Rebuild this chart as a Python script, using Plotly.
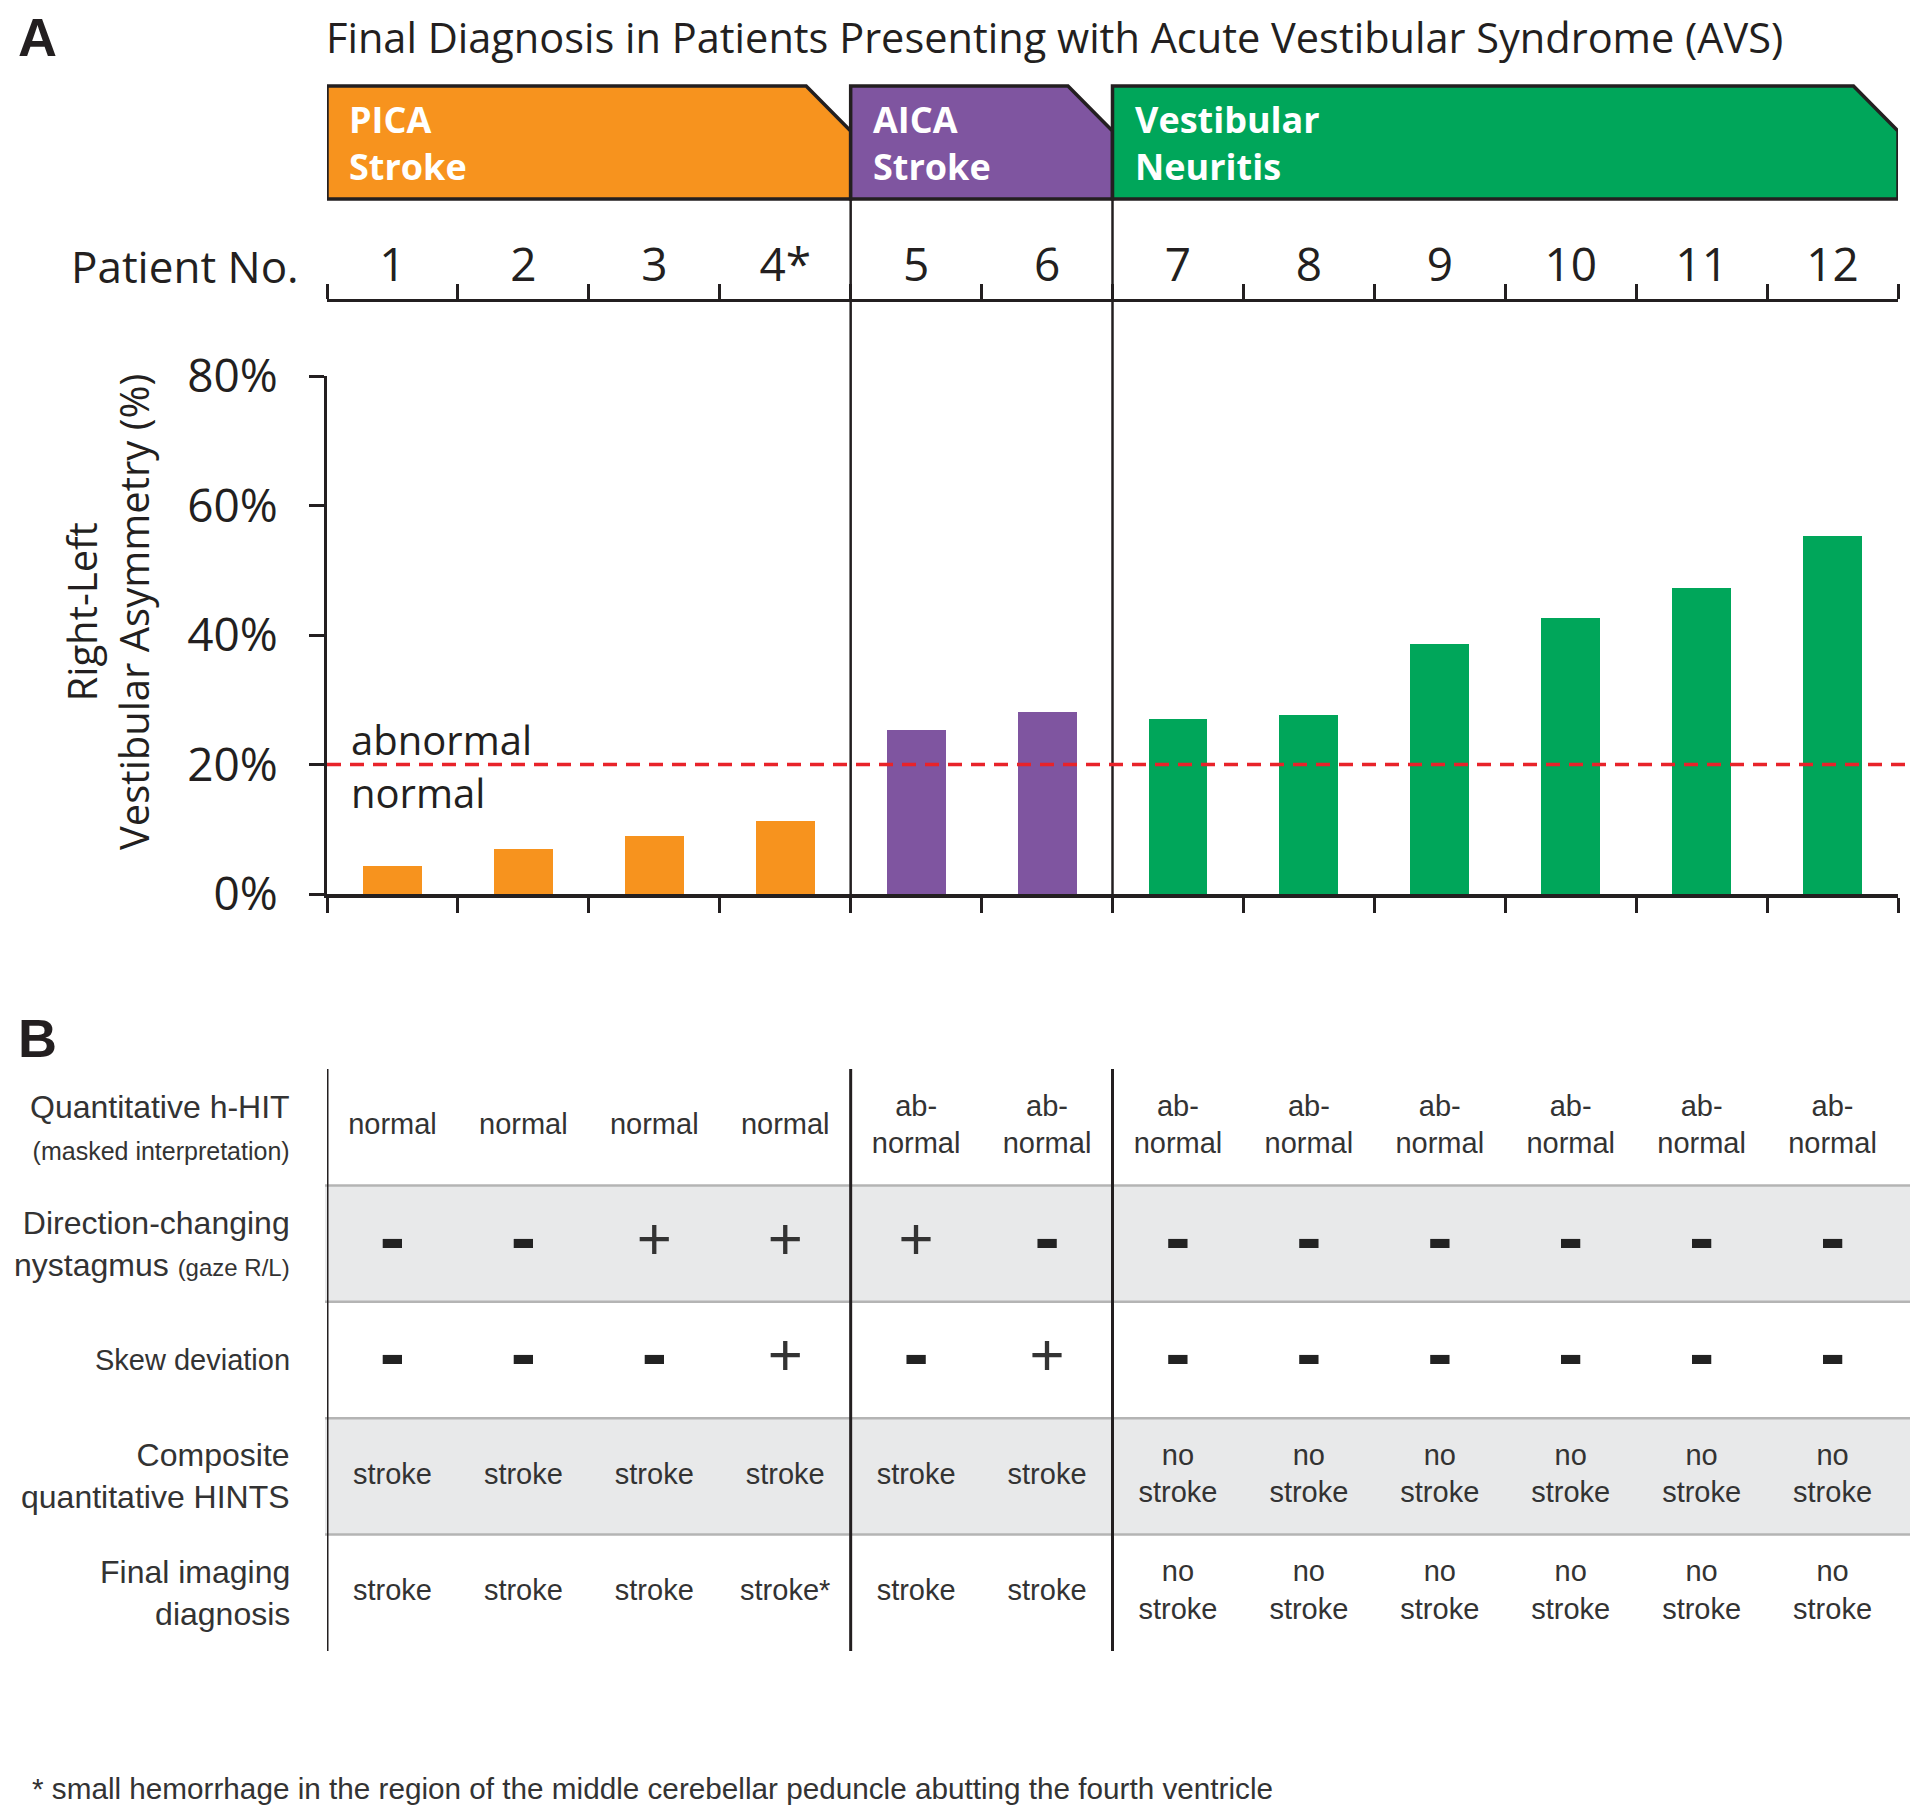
import plotly.graph_objects as go

# the page body adds an 8px margin, so the figure is drawn 8px in from the window edge
PAGE_W, PAGE_H, BODY = 1920, 1816, 8
W, H = PAGE_W - 2 * BODY, PAGE_H - 2 * BODY

# ---- data -------------------------------------------------------------
patients = ['1', '2', '3', '4*', '5', '6', '7', '8', '9', '10', '11', '12']
asymmetry = [4.3, 6.9, 8.9, 11.3, 25.4, 28.1, 27.1, 27.7, 38.6, 42.7, 47.3, 55.3]
diagnosis = ['PICA'] * 4 + ['AICA'] * 2 + ['VN'] * 6

group_keys = ['PICA', 'AICA', 'VN']
group_text = ['PICA<br>Stroke', 'AICA<br>Stroke', 'Vestibular<br>Neuritis']
group_colors = ['#F7931E', '#7F55A0', '#00A65A']

abnormal_cutoff = 20
y_ticks = [0, 20, 40, 60, 80]
y_ticktext = [f'{v}%' for v in y_ticks]

row_labels = [
    "Quantitative h-HIT<br><span style='font-size:25px'>(masked interpretation)</span>",
    "Direction-changing<br>nystagmus <span style='font-size:24px'>(gaze R/L)</span>",
    "<span style='font-size:29px'>Skew deviation</span>",
    "Composite<br>quantitative HINTS",
    "Final imaging<br>diagnosis",
]
hhit = ['normal'] * 4 + ['ab-<br>normal'] * 8
nystagmus = ['-', '-', '+', '+', '+', '-', '-', '-', '-', '-', '-', '-']
skew = ['-', '-', '-', '+', '-', '+', '-', '-', '-', '-', '-', '-']
hints = ['stroke'] * 6 + ['no<br>stroke'] * 6
imaging = ['stroke', 'stroke', 'stroke', 'stroke*', 'stroke', 'stroke'] + ['no<br>stroke'] * 6
table_rows = [hhit, nystagmus, skew, hints, imaging]
shaded_rows = [1, 3]

footnote = '* small hemorrhage in the region of the middle cerebellar peduncle abutting the fourth ventricle'
title = 'Final Diagnosis in Patients Presenting with Acute Vestibular Syndrome (AVS)'


# ---- helpers (window pixels -> paper fractions) ------------------------
def py(p):
    return 1 - (p - BODY) / H


def px(p):
    return (p - BODY) / W


TXT = '#231F20'
CELL = '#333333'
CHART_FONT = 'Open Sans'
TABLE_FONT = 'Liberation Sans'

xs = [i + 1 for i in range(len(patients))]
bounds = [i + 0.5 for i in range(len(patients) + 1)]
color_of = dict(zip(group_keys, group_colors))

spans = []
for key in group_keys:
    idx = [x for x, d in zip(xs, diagnosis) if d == key]
    spans.append((min(idx) - 0.5, max(idx) + 0.5))

x_domain = [px(327), px(1898)]
box_top, box_cut, box_bot = py(86), py(131), py(199)
chamfer = 0.34

fig = go.Figure()

fig.add_trace(go.Bar(
    x=xs, y=asymmetry,
    marker=dict(color=[color_of[d] for d in diagnosis], line=dict(width=0)),
    width=0.45, xaxis='x', yaxis='y', hoverinfo='skip',
))

# invisible trace carrying the top patient axis
fig.add_trace(go.Scatter(x=xs, y=[None] * len(xs), xaxis='x3', yaxis='y',
                         mode='markers', hoverinfo='skip'))

# table cells
for r, row in enumerate(table_rows):
    word_x = [x for x, v in zip(xs, row) if v not in ('+', '-')]
    word_t = [v for v in row if v not in ('+', '-')]
    if word_t:
        fig.add_trace(go.Scatter(
            x=word_x, y=[r + 0.5] * len(word_x), text=word_t, mode='text',
            textfont=dict(family=TABLE_FONT, size=29, color=CELL),
            xaxis='x2', yaxis='y2', hoverinfo='skip'))
    plus_x = [x for x, v in zip(xs, row) if v == '+']
    if plus_x:
        fig.add_trace(go.Scatter(
            x=plus_x, y=[r + 0.5] * len(plus_x), text=['+'] * len(plus_x), mode='text',
            textfont=dict(family=TABLE_FONT, size=60, color=CELL),
            xaxis='x2', yaxis='y2', hoverinfo='skip'))
    minus_x = [x for x, v in zip(xs, row) if v == '-']
    if minus_x:
        fig.add_trace(go.Scatter(
            x=minus_x, y=[r + 0.5] * len(minus_x), text=['-'] * len(minus_x), mode='text',
            textfont=dict(family=TABLE_FONT, size=76, color='#222222', weight='bold'),
            xaxis='x2', yaxis='y2', hoverinfo='skip'))

shapes = []

# header boxes
for (x0, x1), col in zip(spans, group_colors):
    path = (f'M {x0},{box_bot} L {x0},{box_top} L {x1 - chamfer},{box_top} '
            f'L {x1},{box_cut} L {x1},{box_bot} Z')
    shapes.append(dict(type='path', path=path, xref='x', yref='paper',
                       fillcolor=col, line=dict(color=TXT, width=3.5), layer='above'))

# vertical group dividers through the chart
for x0, _ in spans[1:]:
    shapes.append(dict(type='line', xref='x', yref='paper', x0=x0, x1=x0,
                       y0=py(909), y1=box_bot, line=dict(color=TXT, width=2.5)))

# abnormal cutoff
shapes.append(dict(type='line', xref='paper', yref='y', x0=px(327), x1=px(1906),
                   y0=abnormal_cutoff, y1=abnormal_cutoff,
                   line=dict(color='#E8232A', width=3.5, dash='14px,9px'), layer='above'))

# table shading and row separators
for r in shaded_rows:
    shapes.append(dict(type='rect', xref='paper', yref='y2', x0=px(325), x1=px(1910),
                       y0=r, y1=r + 1, fillcolor='#E8E9EA', line=dict(width=0), layer='below'))
for r in range(1, len(table_rows)):
    shapes.append(dict(type='line', xref='paper', yref='y2', x0=px(325), x1=px(1910),
                       y0=r, y1=r, line=dict(color='#B4B4B4', width=2.5), layer='below'))
for x0 in [s[0] for s in spans]:
    shapes.append(dict(type='line', xref='x2', yref='y2', x0=x0, x1=x0,
                       y0=-0.02, y1=len(table_rows) + 0.02, line=dict(color=TXT, width=3)))

annotations = []
for lab, yy in (('A', 37), ('B', 1038)):
    annotations.append(dict(text=f'<b>{lab}</b>', x=px(16), y=py(yy), xref='paper', yref='paper',
                            xanchor='left', yanchor='middle', showarrow=False,
                            font=dict(family='Liberation Sans', size=54, color=TXT)))
annotations.append(dict(text=title, x=px(325), y=1.0, xref='paper', yref='paper',
                        xanchor='left', yanchor='top', showarrow=False, borderpad=0,
                        font=dict(family=CHART_FONT, size=41.5, color=TXT)))
for (x0, _), txt in zip(spans, group_text):
    annotations.append(dict(text=f'<b>{txt}</b>', x=x0, y=py(143), xref='x', yref='paper',
                            xanchor='left', yanchor='middle', align='left', xshift=20,
                            showarrow=False,
                            font=dict(family=CHART_FONT, size=36, color='white')))
annotations.append(dict(text='Patient No.', x=px(301), y=py(266), xref='paper', yref='paper',
                        xanchor='right', yanchor='middle', showarrow=False,
                        font=dict(family=CHART_FONT, size=44, color=TXT)))
annotations.append(dict(text='abnormal', x=0.5, y=abnormal_cutoff, xref='x', yref='y',
                        xanchor='left', yanchor='bottom', xshift=22, yshift=-4, showarrow=False,
                        font=dict(family=CHART_FONT, size=40, color=TXT)))
annotations.append(dict(text='normal', x=0.5, y=abnormal_cutoff, xref='x', yref='y',
                        xanchor='left', yanchor='top', xshift=22, yshift=2, showarrow=False,
                        font=dict(family=CHART_FONT, size=40, color=TXT)))
annotations.append(dict(text='Right-Left<br>Vestibular Asymmetry (%)', x=px(107), y=py(612),
                        xref='paper', yref='paper', xanchor='center', yanchor='middle',
                        textangle=-90, showarrow=False,
                        font=dict(family=CHART_FONT, size=40, color=TXT)))
for r, lab in enumerate(row_labels):
    annotations.append(dict(text=lab, x=px(292), y=r + 0.5, xref='paper', yref='y2',
                            xanchor='right', yanchor='middle', align='right', showarrow=False,
                            font=dict(family=TABLE_FONT, size=32, color=CELL)))
annotations.append(dict(text=footnote, x=px(30), y=py(1788), xref='paper', yref='paper',
                        xanchor='left', yanchor='middle', showarrow=False,
                        font=dict(family=TABLE_FONT, size=29.7, color=CELL)))

axis_common = dict(range=[0.5, len(patients) + 0.5], fixedrange=True,
                   showgrid=False, zeroline=False, automargin=False)

fig.update_layout(
    width=W, height=H, autosize=False,
    margin=dict(l=0, r=0, t=0, b=0, pad=0, autoexpand=False),
    paper_bgcolor='white', plot_bgcolor='rgba(0,0,0,0)',
    showlegend=False, bargap=0,
    shapes=shapes, annotations=annotations,
    xaxis=dict(**axis_common, domain=x_domain, anchor='y', tickmode='array',
               tickvals=bounds, showticklabels=False, ticks='outside', ticklen=15,
               tickwidth=3, tickcolor=TXT, showline=True, linewidth=4, linecolor=TXT),
    yaxis=dict(domain=[py(894), py(376)], range=[0, 80], anchor='x', tickmode='array',
               tickvals=y_ticks, ticktext=y_ticktext, ticks='outside', ticklen=15,
               tickwidth=3, tickcolor=TXT, ticklabelstandoff=22,
               showline=True, linewidth=3, linecolor=TXT,
               showgrid=False, zeroline=False, fixedrange=True, automargin=False,
               tickfont=dict(family=CHART_FONT, size=46, color=TXT)),
    xaxis3=dict(**axis_common, overlaying='x', side='top', anchor='free', position=py(300),
                tickmode='array', tickvals=xs, ticktext=patients,
                ticks='outside', ticklen=0, tickwidth=1, tickcolor='rgba(0,0,0,0)',
                minor=dict(tickmode='array', tickvals=bounds, ticks='outside',
                           ticklen=15, tickwidth=3, tickcolor=TXT),
                showline=True, linewidth=3, linecolor=TXT,
                tickfont=dict(family=CHART_FONT, size=46, color=TXT)),
    xaxis2=dict(**axis_common, domain=x_domain, anchor='y2', visible=False),
    yaxis2=dict(domain=[py(1651), py(1069)], range=[len(table_rows), 0], anchor='x2',
                visible=False, fixedrange=True, automargin=False),
)

fig.write_html('out.html')
